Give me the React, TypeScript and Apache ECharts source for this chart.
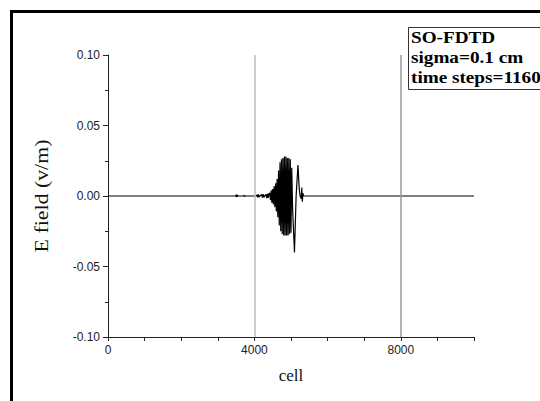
import React, { useEffect, useRef } from "react";
import * as echarts from "echarts";

// x positions (cell) and field values (v/m)
const cells: number[] = [
  0, 3480, 3500, 3510, 3520, 3530, 3540, 3560, 3700, 3720, 3730, 3750,
  4050, 4070, 4090, 4110, 4130, 4150, 4200, 4220, 4240, 4260, 4280,
  4320, 4340, 4360, 4380, 4400,
  4420, 4440, 4460, 4480, 4500, 4520, 4540, 4560, 4580, 4600, 4620, 4640,
  4660, 4680, 4700, 4720, 4740, 4760, 4780, 4800, 4820, 4840, 4860, 4880,
  4900, 4920, 4940, 4960, 4980, 5000, 5020, 5045,
  5095, 5140, 5190, 5225, 5250, 5280, 5295, 5310, 5325, 5340, 10000,
];
const fieldValues: number[] = [
  0, 0, 0.0008, -0.0008, 0.001, -0.0006, 0.0005, 0, 0, 0.0005, -0.0004, 0,
  0, 0.0008, -0.001, 0.0012, -0.0008, 0, 0.001, -0.0012, 0.0014, -0.001, 0,
  0.0012, -0.0015, 0.0016, -0.0014, 0.0018,
  0.002, -0.003, 0.004, -0.005, 0.005, -0.006, 0.007, -0.008, 0.009, -0.011, 0.012, -0.015,
  0.018, -0.021, 0.024, -0.025, 0.026, -0.027, 0.027, -0.028, 0.028, -0.028, 0.028, -0.028,
  0.027, -0.028, 0.027, -0.027, 0.026, -0.026, 0.02, -0.01,
  -0.04, 0.0, 0.022, 0.005, 0, -0.002, 0.006, -0.004, 0.002, 0, 0,
];

const xMin = 0;
const xMax = 10000;
const xInterval = 1000;
const xLabelStep = 4000;
const yMin = -0.1;
const yMax = 0.1;
const yInterval = 0.05;
const guideCells: number[] = [4000, 8000];
const guideColors: string[] = ["#bdbdbd", "#9a9a9a"];
const infoLines: string[] = ["SO-FDTD", "sigma=0.1 cm", "time steps=1160"];
const yTitle = "E field (v/m)";
const xTitle = "cell";

export default function App() {
  const ref = useRef<HTMLDivElement>(null);
  useEffect(() => {
    document.body.style.margin = "0";
    if (!ref.current) return;
    const chart = echarts.init(ref.current, null, { renderer: "svg" });
    const data = cells.map((c, i) => [c, fieldValues[i]]);
    chart.setOption({
      animation: false,
      backgroundColor: "#ffffff",
      grid: { left: 108, top: 55, right: 66, bottom: 64, containLabel: false },
      xAxis: {
        type: "value",
        min: xMin,
        max: xMax,
        interval: xInterval,
        name: xTitle,
        nameLocation: "middle",
        nameGap: 30,
        nameTextStyle: { fontFamily: "Liberation Serif", fontSize: 17, color: "#111" },
        axisLine: { onZero: false, lineStyle: { color: "#222", width: 1 } },
        axisTick: { show: true, length: 4, inside: false, lineStyle: { color: "#222" } },
        axisLabel: {
          fontFamily: "Liberation Sans",
          fontSize: 12,
          color: "#222",
          margin: 7,
          formatter: (v: number) => (v % xLabelStep === 0 && v < xMax ? String(v) : ""),
        },
        splitLine: { show: false },
      },
      yAxis: {
        type: "value",
        min: yMin,
        max: yMax,
        interval: yInterval,
        axisLine: { show: true, onZero: false, lineStyle: { color: "#222", width: 1 } },
        axisTick: { show: true, length: 5, inside: false, lineStyle: { color: "#222" } },
        minorTick: { show: true, splitNumber: 2, length: 3, lineStyle: { color: "#222" } },
        axisLabel: {
          fontFamily: "Liberation Sans",
          fontSize: 12,
          color: "#222",
          margin: 8,
          formatter: (v: number) => v.toFixed(2),
        },
        splitLine: { show: false },
      },
      series: [
        {
          type: "line",
          data,
          showSymbol: false,
          symbol: "none",
          lineStyle: { color: "#000", width: 1.2 },
          markLine: {
            silent: true,
            symbol: "none",
            label: { show: false },
            data: guideCells.map((c, i) => ({
              xAxis: c,
              lineStyle: { color: guideColors[i], width: 1.5, type: "solid" },
            })),
          },
          z: 3,
        },
      ],
      graphic: [
        {
          type: "rect",
          shape: { x: 11.5, y: 11.5, width: 600, height: 500 },
          style: { fill: "none", stroke: "#000", lineWidth: 3 },
          silent: true,
        },
        {
          type: "text",
          x: 42,
          y: 196,
          rotation: Math.PI / 2,
          scaleX: 1.15,
          style: {
            text: yTitle,
            fontFamily: "Liberation Serif",
            fontSize: 19,
            fill: "#111",
            align: "center",
            verticalAlign: "middle",
          },
          silent: true,
        },
        {
          type: "rect",
          shape: { x: 408.5, y: 27.5, width: 140, height: 62 },
          style: { fill: "#fff", stroke: "#333", lineWidth: 1 },
          silent: true,
        },
        ...infoLines.map((t, i) => ({
          type: "text",
          x: 411,
          y: 30 + i * 20,
          scaleX: 1.2,
          style: {
            text: t,
            fontFamily: "Liberation Serif",
            fontWeight: "bold",
            fontSize: 16,
            fill: "#000",
          },
          silent: true,
        })),
      ],
    });
    return () => chart.dispose();
  }, []);
  return <div ref={ref} style={{ width: 540, height: 401 }} />;
}
